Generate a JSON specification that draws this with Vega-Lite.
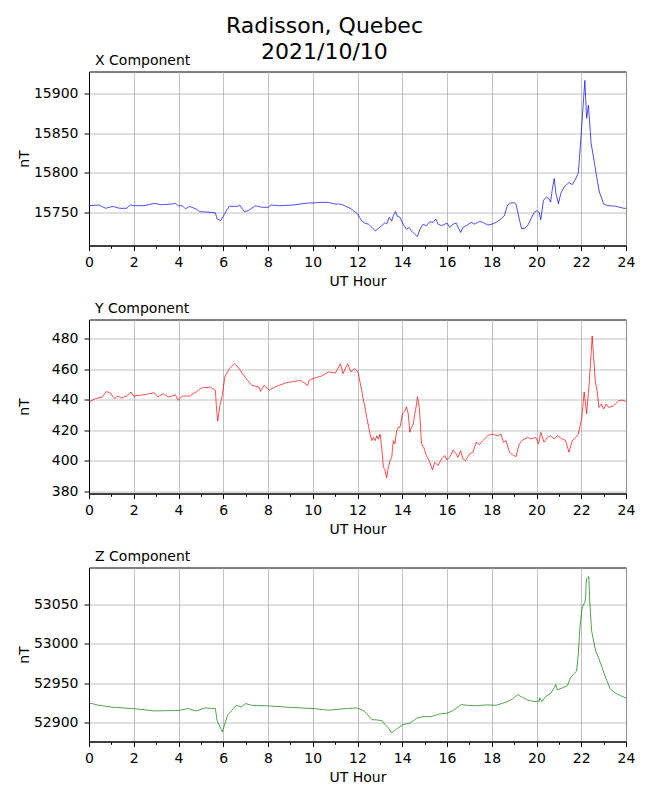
{
  "$schema": "https://vega.github.io/schema/vega-lite/v6.json",
  "padding": {"left": 16, "top": 14.5, "right": 10, "bottom": 10},
  "background": "white",
  "title": {
    "text": ["Radisson, Quebec", "2021/10/10"],
    "fontSize": 22,
    "font": "DejaVu Sans",
    "fontWeight": "normal",
    "color": "black",
    "anchor": "middle",
    "frame": "bounds",
    "lineHeight": 26,
    "offset": -10.5,
    "dx": -1.5
  },
  "datasets": {
    "X": [
      {"h":0.00,"v":15758.3},{"h":0.44,"v":15759.2},{"h":0.75,"v":15755.0},{"h":1.06,"v":15757.5},{"h":1.37,"v":15755.0},{"h":1.68,"v":15755.0},{"h":1.84,"v":15759.2},{"h":1.98,"v":15758.3},{"h":2.46,"v":15758.3},{"h":2.92,"v":15761.3},{"h":3.23,"v":15759.6},{"h":3.70,"v":15760.4},{"h":3.86,"v":15761.3},{"h":4.00,"v":15758.3},{"h":4.17,"v":15758.3},{"h":4.32,"v":15754.2},{"h":4.48,"v":15757.5},{"h":4.79,"v":15754.2},{"h":4.95,"v":15750.8},{"h":5.41,"v":15750.0},{"h":5.65,"v":15749.2},{"h":5.72,"v":15741.7},{"h":5.88,"v":15739.6},{"h":6.02,"v":15745.8},{"h":6.19,"v":15754.2},{"h":6.27,"v":15757.5},{"h":6.66,"v":15757.5},{"h":6.73,"v":15759.2},{"h":6.94,"v":15750.8},{"h":7.12,"v":15752.1},{"h":7.43,"v":15758.3},{"h":7.74,"v":15756.3},{"h":8.02,"v":15756.3},{"h":8.13,"v":15759.2},{"h":8.52,"v":15758.3},{"h":9.14,"v":15759.2},{"h":9.77,"v":15761.7},{"h":10.05,"v":15761.7},{"h":10.23,"v":15762.5},{"h":10.70,"v":15762.5},{"h":11.01,"v":15760.4},{"h":11.24,"v":15760.4},{"h":11.48,"v":15757.5},
      {"h":11.67,"v":15755.1},{"h":11.82,"v":15752.0},{"h":12.00,"v":15748.0},{"h":12.19,"v":15739.0},{"h":12.34,"v":15736.0},{"h":12.49,"v":15735.0},{"h":12.64,"v":15731.0},{"h":12.79,"v":15726.5},{"h":12.93,"v":15729.5},{"h":13.08,"v":15733.0},{"h":13.23,"v":15737.0},{"h":13.30,"v":15735.0},{"h":13.42,"v":15743.6},{"h":13.53,"v":15739.0},{"h":13.60,"v":15745.7},{"h":13.70,"v":15750.9},{"h":13.78,"v":15744.9},{"h":13.90,"v":15743.6},{"h":14.04,"v":15735.0},{"h":14.19,"v":15728.6},{"h":14.31,"v":15730.8},{"h":14.41,"v":15726.5},{"h":14.56,"v":15722.2},{"h":14.68,"v":15719.3},{"h":14.79,"v":15728.6},{"h":14.93,"v":15735.0},{"h":15.08,"v":15733.0},{"h":15.23,"v":15738.0},{"h":15.38,"v":15737.2},{"h":15.50,"v":15741.5},{"h":15.60,"v":15735.0},{"h":15.75,"v":15733.0},{"h":16.00,"v":15736.3},{"h":16.12,"v":15730.8},{"h":16.27,"v":15735.0},{"h":16.41,"v":15736.3},{"h":16.61,"v":15724.4},{"h":16.71,"v":15730.8},{"h":16.86,"v":15733.0},{"h":17.08,"v":15737.2},{"h":17.23,"v":15735.0},{"h":17.45,"v":15738.5},{"h":17.60,"v":15737.2},{"h":17.82,"v":15733.8},{"h":18.01,"v":15735.0},{"h":18.19,"v":15737.2},{"h":18.41,"v":15741.5},{"h":18.56,"v":15745.7},{"h":18.71,"v":15759.4},{"h":18.86,"v":15762.0},{"h":19.01,"v":15762.0},{"h":19.08,"v":15760.7},{"h":19.23,"v":15741.5},{"h":19.33,"v":15729.5},{"h":19.45,"v":15729.5},{"h":19.60,"v":15733.0},{"h":19.75,"v":15741.5},{"h":19.90,"v":15750.0},{"h":20.01,"v":15752.0},{"h":20.12,"v":15750.0},{"h":20.19,"v":15740.6},{"h":20.31,"v":15765.0},{"h":20.44,"v":15769.2},{"h":20.56,"v":15767.0},{"h":20.63,"v":15762.8},{"h":20.70,"v":15777.8},{"h":20.79,"v":15792.7},{"h":20.86,"v":15775.6},{"h":20.98,"v":15760.7},{"h":21.08,"v":15773.4},{"h":21.23,"v":15782.0},{"h":21.45,"v":15787.6},{"h":21.60,"v":15785.0},{"h":21.75,"v":15792.0},
      {"h":21.87,"v":15800.0},{"h":21.98,"v":15841.7},{"h":22.16,"v":15916.7},{"h":22.24,"v":15868.8},{"h":22.32,"v":15885.4},{"h":22.44,"v":15837.5},{"h":22.60,"v":15810.4},{"h":22.70,"v":15792.7},{"h":22.81,"v":15775.6},{"h":23.00,"v":15760.7},{"h":23.16,"v":15758.5},{"h":23.53,"v":15757.7},{"h":23.90,"v":15755.0},{"h":24.00,"v":15755.0}
    ],
    "Y": [
      {"h":0.00,"v":438.5},{"h":0.28,"v":440.7},{"h":0.59,"v":441.8},{"h":0.78,"v":445.5},{"h":0.98,"v":444.0},{"h":1.14,"v":440.7},{"h":1.29,"v":442.4},{"h":1.45,"v":441.1},{"h":1.68,"v":442.4},{"h":1.88,"v":445.1},{"h":1.99,"v":442.4},{"h":2.46,"v":443.3},{"h":2.92,"v":444.6},{"h":3.08,"v":441.8},{"h":3.31,"v":444.0},{"h":3.55,"v":441.8},{"h":3.86,"v":443.3},{"h":3.98,"v":439.6},{"h":4.17,"v":442.4},{"h":4.48,"v":442.4},{"h":4.79,"v":445.1},{"h":5.02,"v":447.7},{"h":5.41,"v":448.3},{"h":5.65,"v":446.2},{"h":5.69,"v":436.3},{"h":5.75,"v":425.9},{"h":5.85,"v":436.3},{"h":5.96,"v":442.9},{"h":6.07,"v":454.9},{"h":6.27,"v":460.3},{"h":6.50,"v":463.6},{"h":6.66,"v":461.4},{"h":6.97,"v":454.9},{"h":7.28,"v":449.4},{"h":7.59,"v":448.3},{"h":7.67,"v":445.5},{"h":7.82,"v":449.4},{"h":8.06,"v":446.2},{"h":8.29,"v":448.3},{"h":8.83,"v":451.2},{"h":9.46,"v":452.7},{"h":9.77,"v":449.4},{"h":9.84,"v":452.7},{"h":10.08,"v":454.2},{"h":10.39,"v":455.5},{"h":10.70,"v":458.2},{"h":11.01,"v":457.5},{"h":11.24,"v":463.6},{"h":11.35,"v":457.1},{"h":11.56,"v":463.6},{"h":11.71,"v":458.2},{"h":11.87,"v":460.3},{"h":12.02,"v":458.2},
      {"h":12.19,"v":445.9},{"h":12.27,"v":439.3},{"h":12.34,"v":435.0},{"h":12.41,"v":428.5},{"h":12.49,"v":423.0},{"h":12.56,"v":417.6},{"h":12.64,"v":413.3},{"h":12.71,"v":415.4},{"h":12.79,"v":413.3},{"h":12.86,"v":416.5},{"h":12.93,"v":414.3},{"h":13.01,"v":417.6},{"h":13.08,"v":408.9},{"h":13.16,"v":395.9},{"h":13.23,"v":394.1},{"h":13.30,"v":388.9},{"h":13.38,"v":395.9},{"h":13.45,"v":400.2},{"h":13.53,"v":402.4},{"h":13.60,"v":413.3},{"h":13.67,"v":411.1},{"h":13.75,"v":419.8},{"h":13.82,"v":422.0},{"h":13.90,"v":422.0},{"h":14.01,"v":430.7},{"h":14.12,"v":432.8},{"h":14.19,"v":435.4},{"h":14.27,"v":430.7},{"h":14.34,"v":418.7},{"h":14.41,"v":422.0},{"h":14.49,"v":424.1},{"h":14.56,"v":430.7},{"h":14.64,"v":437.2},{"h":14.68,"v":442.0},{"h":14.76,"v":435.0},{"h":14.81,"v":424.1},{"h":14.86,"v":411.1},{"h":14.96,"v":408.9},{"h":15.08,"v":403.5},{"h":15.20,"v":400.2},{"h":15.35,"v":394.1},{"h":15.45,"v":399.2},{"h":15.60,"v":397.0},{"h":15.75,"v":401.3},{"h":15.90,"v":403.5},{"h":16.00,"v":400.7},{"h":16.12,"v":402.4},{"h":16.27,"v":407.2},{"h":16.39,"v":405.0},{"h":16.49,"v":402.4},{"h":16.61,"v":406.7},{"h":16.71,"v":401.3},{"h":16.83,"v":400.2},{"h":17.01,"v":404.6},{"h":17.16,"v":405.7},{"h":17.30,"v":412.2},{"h":17.45,"v":410.7},{"h":17.60,"v":413.3},{"h":17.82,"v":416.5},{"h":18.01,"v":417.6},{"h":18.27,"v":416.5},{"h":18.41,"v":417.6},{"h":18.52,"v":412.2},{"h":18.64,"v":413.3},{"h":18.79,"v":405.7},{"h":18.93,"v":404.1},{"h":19.08,"v":402.8},{"h":19.23,"v":411.1},{"h":19.38,"v":413.7},{"h":19.60,"v":415.4},{"h":19.75,"v":414.3},{"h":19.97,"v":415.4},{"h":20.09,"v":411.1},{"h":20.19,"v":418.7},{"h":20.34,"v":412.2},{"h":20.49,"v":415.4},{"h":20.64,"v":416.5},{"h":20.79,"v":414.3},{"h":20.93,"v":416.5},{"h":21.16,"v":414.3},{"h":21.30,"v":413.3},{"h":21.45,"v":405.7},{"h":21.60,"v":413.3},{"h":21.75,"v":415.4},{"h":21.87,"v":417.6},
      {"h":22.02,"v":427.6},{"h":22.13,"v":445.1},{"h":22.24,"v":430.9},{"h":22.36,"v":451.6},{"h":22.49,"v":481.7},{"h":22.63,"v":451.6},{"h":22.71,"v":446.0},{"h":22.79,"v":435.0},{"h":22.90,"v":437.2},{"h":23.00,"v":433.9},{"h":23.11,"v":437.2},{"h":23.23,"v":435.0},{"h":23.45,"v":436.1},{"h":23.67,"v":439.3},{"h":23.82,"v":439.8},{"h":24.00,"v":438.9}
    ],
    "Z": [
      {"h":0.00,"v":52925.0},{"h":0.44,"v":52922.0},{"h":1.06,"v":52919.5},{"h":1.98,"v":52917.8},{"h":2.92,"v":52914.8},{"h":3.70,"v":52915.3},{"h":4.01,"v":52915.3},{"h":4.40,"v":52917.8},{"h":4.79,"v":52914.8},{"h":5.18,"v":52918.6},{"h":5.65,"v":52917.8},{"h":5.72,"v":52903.0},{"h":5.96,"v":52888.1},{"h":6.19,"v":52909.3},{"h":6.58,"v":52922.0},{"h":6.81,"v":52919.9},{"h":7.00,"v":52924.2},{"h":7.28,"v":52922.0},{"h":8.06,"v":52921.2},{"h":9.14,"v":52919.1},{"h":10.05,"v":52917.8},{"h":10.70,"v":52915.7},{"h":11.48,"v":52917.8},
      {"h":11.67,"v":52918.2},{"h":11.97,"v":52918.6},{"h":12.27,"v":52915.3},{"h":12.49,"v":52908.9},{"h":12.64,"v":52903.8},{"h":12.86,"v":52903.4},{"h":13.08,"v":52902.6},{"h":13.23,"v":52897.5},{"h":13.38,"v":52893.2},{"h":13.53,"v":52886.9},{"h":13.75,"v":52892.0},{"h":14.04,"v":52897.5},{"h":14.34,"v":52899.2},{"h":14.64,"v":52905.5},{"h":14.93,"v":52907.6},{"h":15.30,"v":52907.6},{"h":15.67,"v":52911.0},{"h":16.00,"v":52911.9},{"h":16.27,"v":52915.3},{"h":16.64,"v":52922.9},{"h":17.01,"v":52921.6},{"h":17.38,"v":52921.6},{"h":17.75,"v":52922.5},{"h":18.19,"v":52922.0},{"h":18.64,"v":52925.9},{"h":18.93,"v":52930.1},{"h":19.16,"v":52935.6},{"h":19.30,"v":52933.1},{"h":19.60,"v":52928.8},{"h":19.90,"v":52926.7},{"h":20.12,"v":52927.1},{"h":20.15,"v":52931.4},{"h":20.24,"v":52926.7},{"h":20.41,"v":52933.1},{"h":20.64,"v":52937.3},{"h":20.79,"v":52944.1},{"h":20.86,"v":52948.3},{"h":20.93,"v":52941.5},{"h":21.16,"v":52944.1},{"h":21.38,"v":52947.0},{"h":21.53,"v":52957.6},{"h":21.67,"v":52961.9},{"h":21.79,"v":52965.3},{"h":21.87,"v":52987.3},{"h":21.94,"v":53021.2},{"h":22.04,"v":53046.6},{"h":22.16,"v":53053.0},{"h":22.19,"v":53057.2},{"h":22.23,"v":53082.6},{"h":22.34,"v":53085.6},{"h":22.37,"v":53059.3},{"h":22.46,"v":53017.0},{"h":22.64,"v":52991.5},{"h":22.79,"v":52981.0},{"h":22.93,"v":52970.3},{"h":23.08,"v":52957.6},{"h":23.30,"v":52942.8},{"h":23.53,"v":52937.3},{"h":23.75,"v":52934.3},{"h":24.00,"v":52931.0}
    ]
  },
  "bounds": "flush",
  "spacing": 74,
  "vconcat": [
    {
      "title": {"text": "X Component"},
      "width": 537,
      "height": 174,
      "data": {"name": "X"},
      "mark": {"type": "line", "color": "#0000ff", "strokeWidth": 0.7, "clip": true},
      "encoding": {
        "x": {"field": "h", "type": "quantitative", "scale": {"domain": [0, 24], "nice": false},
              "axis": {"title": "UT Hour", "values": [0,1,2,3,4,5,6,7,8,9,10,11,12,13,14,15,16,17,18,19,20,21,22,23,24],
                       "labelExpr": "datum.value % 2 == 0 ? datum.label : ''",
                       "tickSize": {"condition": {"test": "datum.value % 2 == 0", "value": 5}, "value": 2.8},
                       "gridOpacity": {"condition": {"test": "datum.value % 2 == 0", "value": 1}, "value": 0}}},
        "y": {"field": "v", "type": "quantitative", "scale": {"domain": [15708, 15928], "nice": false, "zero": false},
              "axis": {"title": "nT", "values": [15750, 15800, 15850, 15900]}}
      }
    },
    {
      "title": {"text": "Y Component"},
      "width": 537,
      "height": 174,
      "data": {"name": "Y"},
      "mark": {"type": "line", "color": "#ff0000", "strokeWidth": 0.7, "clip": true},
      "encoding": {
        "x": {"field": "h", "type": "quantitative", "scale": {"domain": [0, 24], "nice": false},
              "axis": {"title": "UT Hour", "values": [0,1,2,3,4,5,6,7,8,9,10,11,12,13,14,15,16,17,18,19,20,21,22,23,24],
                       "labelExpr": "datum.value % 2 == 0 ? datum.label : ''",
                       "tickSize": {"condition": {"test": "datum.value % 2 == 0", "value": 5}, "value": 2.8},
                       "gridOpacity": {"condition": {"test": "datum.value % 2 == 0", "value": 1}, "value": 0}}},
        "y": {"field": "v", "type": "quantitative", "scale": {"domain": [378.7, 492.5], "nice": false, "zero": false},
              "axis": {"title": "nT", "values": [380, 400, 420, 440, 460, 480]}}
      }
    },
    {
      "title": {"text": "Z Component"},
      "width": 537,
      "height": 174,
      "data": {"name": "Z"},
      "mark": {"type": "line", "color": "#008000", "strokeWidth": 0.7, "clip": true},
      "encoding": {
        "x": {"field": "h", "type": "quantitative", "scale": {"domain": [0, 24], "nice": false},
              "axis": {"title": "UT Hour", "values": [0,1,2,3,4,5,6,7,8,9,10,11,12,13,14,15,16,17,18,19,20,21,22,23,24],
                       "labelExpr": "datum.value % 2 == 0 ? datum.label : ''",
                       "tickSize": {"condition": {"test": "datum.value % 2 == 0", "value": 5}, "value": 2.8},
                       "gridOpacity": {"condition": {"test": "datum.value % 2 == 0", "value": 1}, "value": 0}}},
        "y": {"field": "v", "type": "quantitative", "scale": {"domain": [52876, 53097], "nice": false, "zero": false},
              "axis": {"title": "nT", "values": [52900, 52950, 53000, 53050]}}
      }
    }
  ],
  "config": {
    "font": "DejaVu Sans",
    "view": {"stroke": "black", "strokeWidth": 1},
    "title": {"fontSize": 14, "font": "DejaVu Sans", "fontWeight": "normal", "color": "black", "anchor": "start", "frame": "group", "dx": 6, "offset": 4},
    "axis": {
      "labelFont": "DejaVu Sans", "labelFontSize": 14, "labelColor": "black",
      "titleFont": "DejaVu Sans", "titleFontSize": 14, "titleFontWeight": "normal", "titleColor": "black",
      "tickColor": "black", "tickWidth": 1, "tickSize": 5,
      "domainColor": "black", "domainWidth": 1,
      "gridColor": "#b0b0b0", "gridWidth": 0.8, "grid": true,
      "labelFlush": false, "labelOverlap": false, "format": "d"
    },
    "axisBottom": {"labelPadding": 5, "titlePadding": 5},
    "axisLeft": {"labelPadding": 6, "titleX": -58}
  }
}
